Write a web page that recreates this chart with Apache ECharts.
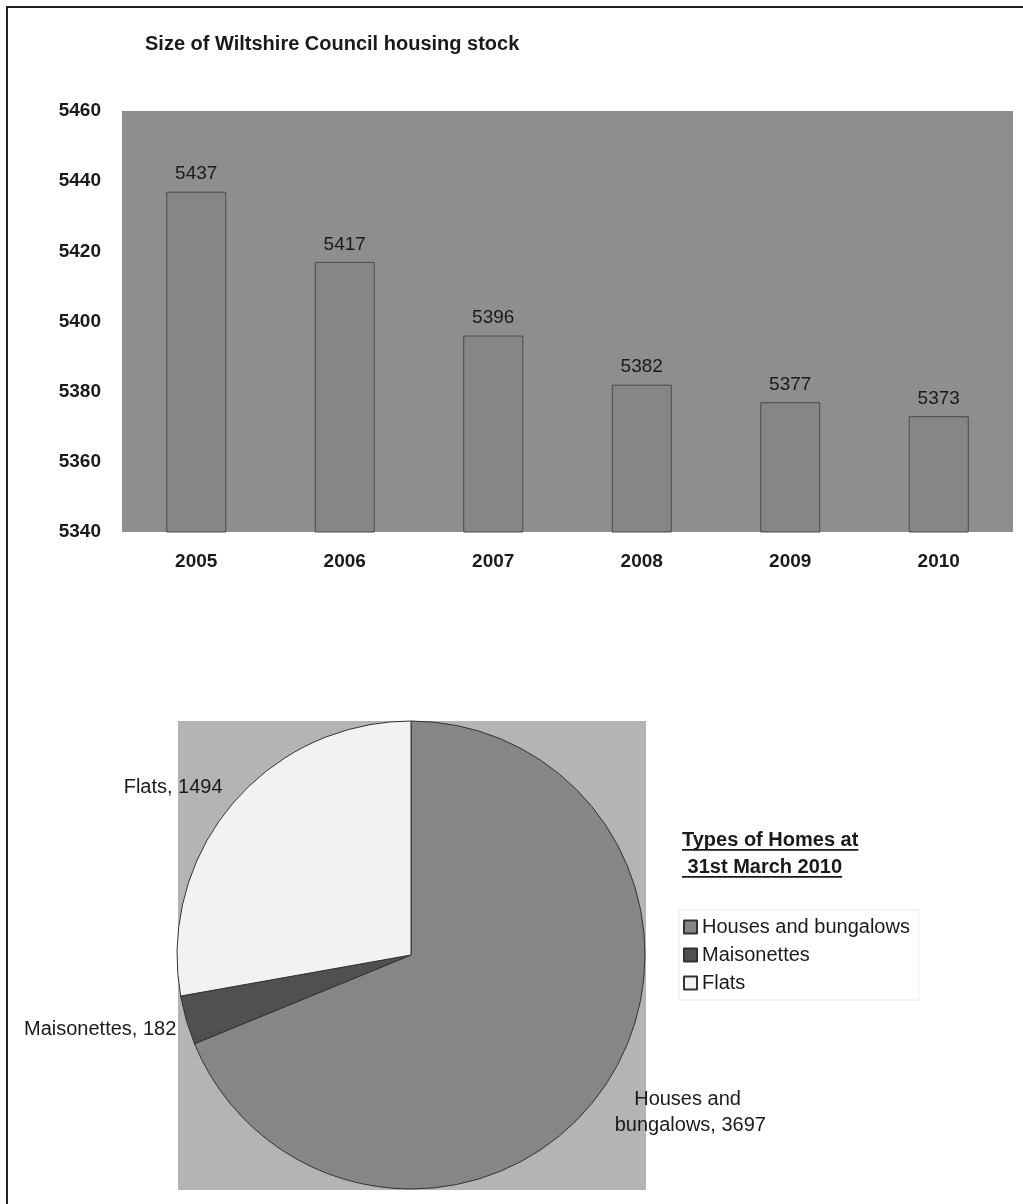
<!DOCTYPE html>
<html>
<head>
<meta charset="utf-8">
<script src="https://cdn.jsdelivr.net/npm/echarts@6/dist/echarts.min.js"></script>
<style>
  html, body { margin: 0; padding: 0; background: #ffffff; }
  #chart { width: 1023px; height: 1204px; }
</style>
</head>
<body>
<div id="chart"></div>
<script>
// Council housing stock by year
const years = ['2005', '2006', '2007', '2008', '2009', '2010'];
const stockTotals = [5437, 5417, 5396, 5382, 5377, 5373];
const stockAxisMin = 5340;
const stockAxisMax = 5460;
const stockAxisStep = 20;

// Types of homes at 31st March 2010
const homeTypes = ['Houses and bungalows', 'Maisonettes', 'Flats'];
const homeCounts = [3697, 182, 1494];

const FONT = '"Liberation Sans", Arial, Helvetica, sans-serif';
const INK = '#1a1a1a';
const sliceColors = ['#868686', '#505050', '#f2f2f2'];

const chart = echarts.init(document.getElementById('chart'), null, { renderer: 'canvas' });

// width of a bold caption line, used for its underline
function textWidth(str, size, weight) {
  const ctx = document.createElement('canvas').getContext('2d');
  ctx.font = weight + ' ' + size + 'px ' + FONT;
  return ctx.measureText(str).width;
}

const legendTitle = ['Types of Homes at', ' 31st March 2010'];
const captionSize = 20;
const captionX = 682;
const captionY = [830, 857];

const captionGraphics = [];
legendTitle.forEach(function (line, i) {
  captionGraphics.push({
    type: 'text',
    left: captionX,
    top: captionY[i],
    style: { text: line, font: 'bold ' + captionSize + 'px ' + FONT, fill: INK }
  });
  captionGraphics.push({
    type: 'rect',
    shape: { x: captionX, y: captionY[i] + 19, width: textWidth(line, captionSize, 'bold'), height: 1.8 },
    style: { fill: INK }
  });
});

const pieLabelShift = [
  { dx: 80, dy: 27, align: 'center' },
  { dx: -5, dy: 9 },
  { dx: -4, dy: -17 }
];

const option = {
  animation: false,
  backgroundColor: '#ffffff',
  title: {
    text: 'Size of Wiltshire Council housing stock',
    left: 145,
    top: 34,
    padding: 0,
    textStyle: { fontFamily: FONT, fontSize: 20, fontWeight: 'bold', color: INK }
  },
  grid: {
    left: 122,
    right: 10,
    top: 111,
    height: 421,
    show: true,
    backgroundColor: '#8e8e8e',
    borderWidth: 0
  },
  xAxis: {
    type: 'category',
    data: years,
    axisLine: { show: false },
    axisTick: { show: false },
    axisLabel: { margin: 20, fontFamily: FONT, fontSize: 19, fontWeight: 'bold', color: INK }
  },
  yAxis: {
    type: 'value',
    min: stockAxisMin,
    max: stockAxisMax,
    interval: stockAxisStep,
    axisLine: { show: false },
    axisTick: { show: false },
    splitLine: { show: false },
    axisLabel: {
      margin: 21,
      formatter: function (v) { return String(v); },
      fontFamily: FONT, fontSize: 19, fontWeight: 'bold', color: INK
    }
  },
  legend: {
    orient: 'vertical',
    left: 679,
    top: 910,
    padding: [7, 9, 7, 4],
    borderColor: '#ececec',
    borderWidth: 1,
    itemWidth: 13,
    itemHeight: 13,
    itemGap: 8,
    icon: 'rect',
    data: homeTypes,
    textStyle: { fontFamily: FONT, fontSize: 20, color: INK, padding: [0, 0, 0, 0] }
  },
  graphic: [
    {
      type: 'rect',
      z: 0,
      shape: { x: 7, y: 7, width: 1200, height: 1400 },
      style: { fill: 'none', stroke: '#222222', lineWidth: 2 }
    },
    {
      type: 'rect',
      z: 0,
      shape: { x: 178, y: 721, width: 468, height: 469 },
      style: { fill: '#b4b4b4' }
    }
  ].concat(captionGraphics),
  series: [
    {
      type: 'bar',
      data: stockTotals,
      barWidth: 60,
      itemStyle: { color: '#868686', borderColor: '#4a4a4a', borderWidth: 1 },
      label: {
        show: true,
        position: 'top',
        distance: 8,
        fontFamily: FONT,
        fontSize: 19,
        color: INK
      }
    },
    {
      type: 'pie',
      center: [411, 955],
      radius: 234,
      startAngle: 90,
      clockwise: true,
      itemStyle: { borderColor: '#333333', borderWidth: 1 },
      label: {
        show: true,
        position: 'outside',
        formatter: '{b}, {c}',
        fontFamily: FONT,
        fontSize: 20,
        color: INK
      },
      labelLine: { show: false, length: 0, length2: 0 },
      labelLayout: function (p) { return pieLabelShift[p.dataIndex]; },
      emphasis: { disabled: true },
      data: homeTypes.map(function (name, i) {
        const item = { name: name, value: homeCounts[i], itemStyle: { color: sliceColors[i] } };
        if (i === 0) {
          item.label = { width: 165, overflow: 'break', lineHeight: 26 };
        }
        return item;
      })
    }
  ]
};

chart.setOption(option);
</script>
</body>
</html>
